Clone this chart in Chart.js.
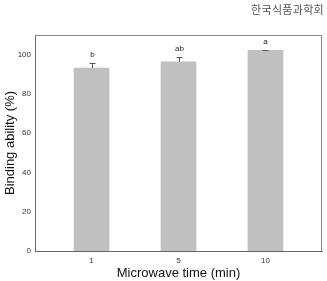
<!DOCTYPE html>
<html>
<head>
<meta charset="utf-8">
<script src="https://cdn.jsdelivr.net/npm/chart.js@4/dist/chart.umd.min.js"></script>
<style>
  html, body { margin: 0; padding: 0; background: #fff; }
  #wrap { position: relative; width: 327px; height: 281px; }
  #journal { position: absolute; right: 3px; top: 1px; font-family: "Noto Sans CJK KR", sans-serif; font-size: 11px; color: #555; letter-spacing: 0.3px; }
</style>
</head>
<body>
<div id="wrap">
  <div id="journal">한국식품과학회</div>
  <canvas id="chart" width="327" height="281"></canvas>
</div>
<script>
// data
const times = ['1', '5', '10'];
const binding = [93.2, 96.3, 102.2];
const sdErr = [2.6, 2.5, 0.3];
const letters = ['b', 'ab', 'a'];
const yTicks = [0, 20, 40, 60, 80, 100];

// error bars (upper only) + significance letters
const errorBarPlugin = {
    id: 'errorBars',
    afterDatasetsDraw(chart) {
        const ctx = chart.ctx;
        const xs = chart.scales.x, ys = chart.scales.y;
        ctx.save();
        ctx.strokeStyle = '#555';
        ctx.lineWidth = 1;
        binding.forEach((v, i) => {
            const x = Math.round(xs.getPixelForValue(i + 1)) + 0.5;
            const y0 = ys.getPixelForValue(v);
            const y1 = Math.round(ys.getPixelForValue(v + sdErr[i])) + 0.5;
            ctx.beginPath();
            ctx.moveTo(x, y0);
            ctx.lineTo(x, y1);
            ctx.moveTo(x - 3, y1);
            ctx.lineTo(x + 3, y1);
            ctx.stroke();
            ctx.fillStyle = '#222';
            ctx.font = '8px "Liberation Sans", Arial, sans-serif';
            ctx.textAlign = 'center';
            ctx.textBaseline = 'middle';
            ctx.fillText(letters[i], x, y1 - 9);
        });
        ctx.restore();
    }
};

// top/right frame lines
const framePlugin = {
    id: 'frame',
    afterDraw(chart) {
        const a = chart.chartArea, ctx = chart.ctx;
        ctx.save();
        ctx.strokeStyle = '#888';
        ctx.lineWidth = 1;
        ctx.beginPath();
        ctx.moveTo(a.left, a.top + 0.5);
        ctx.lineTo(a.right - 0.5, a.top + 0.5);
        ctx.lineTo(a.right - 0.5, a.bottom);
        ctx.stroke();
        ctx.restore();
    }
};

const ctx = document.getElementById('chart').getContext('2d');
new Chart(ctx, {
    type: 'bar',
    data: {
        datasets: [{
            data: binding.map((v, i) => ({ x: i + 1, y: v })),
            backgroundColor: 'rgb(192,192,192)',
            borderWidth: 0,
            barThickness: 35
        }]
    },
    options: {
        responsive: false,
        animation: false,
        layout: { padding: { top: 35, right: 5, left: 0, bottom: 0 } },
        plugins: { legend: { display: false }, tooltip: { enabled: false } },
        scales: {
            x: {
                type: 'linear',
                min: 0.35,
                max: 3.65,
                offset: false,
                afterBuildTicks: s => { s.ticks = times.map((t, i) => ({ value: i + 1 })); },
                afterFit: s => { s.height = 30; },
                grid: { display: false, drawTicks: false },
                border: { display: true, color: '#666', width: 1 },
                ticks: {
                    callback: v => times[v - 1] ?? '',
                    color: '#333',
                    padding: 5,
                    maxRotation: 0,
                    font: { family: '"Liberation Sans", Arial, sans-serif', size: 8 }
                },
                title: {
                    display: true,
                    text: 'Microwave time (min)',
                    color: '#111',
                    padding: { top: 0, bottom: 0 },
                    font: { family: '"Liberation Sans", Arial, sans-serif', size: 13 }
                }
            },
            y: {
                min: 0,
                max: 110,
                afterBuildTicks: s => { s.ticks = yTicks.map(v => ({ value: v })); },
                afterFit: s => { s.width = 35; },
                grid: { display: false, drawTicks: false },
                border: { display: true, color: '#666', width: 1 },
                ticks: {
                    color: '#333',
                    padding: 4,
                    font: { family: '"Liberation Sans", Arial, sans-serif', size: 8 }
                },
                title: {
                    display: true,
                    text: 'Binding ability (%)',
                    color: '#111',
                    padding: { top: 3, bottom: 0 },
                    font: { family: '"Liberation Sans", Arial, sans-serif', size: 13 }
                }
            }
        }
    },
    plugins: [errorBarPlugin, framePlugin]
});
</script>
</body>
</html>
